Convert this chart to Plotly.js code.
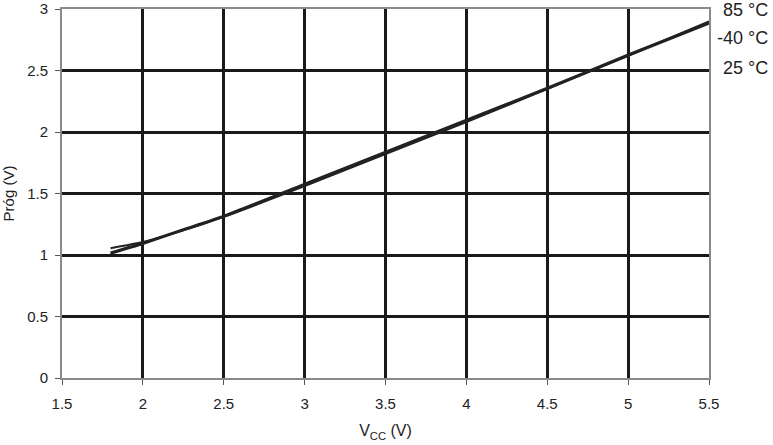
<!DOCTYPE html>
<html><head><meta charset="utf-8">
<script src="https://cdn.plot.ly/plotly-3.0.1.min.js"></script>
<style>html,body{margin:0;padding:0;background:#fff}#chart{width:773px;height:445px}</style>
</head><body><div id="chart"></div>
<script>
const vcc = [1.8, 2.0, 2.25, 2.5, 3.0, 3.5, 4.0, 4.5, 5.0, 5.5];
const prog25 = [1.01, 1.09, 1.20, 1.31, 1.57, 1.83, 2.09, 2.35, 2.62, 2.88];
const progM40 = [1.02, 1.10, 1.21, 1.32, 1.58, 1.84, 2.10, 2.36, 2.63, 2.89];
const prog85 = [1.055, 1.105, 1.20, 1.31, 1.56, 1.82, 2.08, 2.35, 2.62, 2.90];
const seriesNames = ['85 °C', '-40 °C', '25 °C'];
const xTicks = [1.5, 2, 2.5, 3, 3.5, 4, 4.5, 5, 5.5];
const yTicks = [0, 0.5, 1, 1.5, 2, 2.5, 3];

const seriesY = [prog85, progM40, prog25];
const traces = seriesY.map((y, i) => ({
  x: vcc, y: y, type: 'scatter', mode: 'lines', name: seriesNames[i],
  line: {color: '#222', width: 2, shape: 'spline', smoothing: 0.6}
}));
const labelY = [0.997, 0.921, 0.840];
const annotations = seriesNames.map((t, i) => ({
  text: t, xref: 'paper', yref: 'paper', x: 1.094, y: labelY[i],
  xanchor: 'right', yanchor: 'middle', showarrow: false,
  font: {family: 'Liberation Sans, Arial, sans-serif', size: 18, color: '#222'}
}));
const layout = {
  width: 773, height: 445,
  margin: {l: 62, r: 64, t: 9, b: 67},
  paper_bgcolor: '#fff', plot_bgcolor: '#fff',
  showlegend: false,
  font: {family: 'Liberation Sans, Arial, sans-serif', size: 15, color: '#222'},
  xaxis: {
    range: [1.5, 5.5], tickvals: xTicks, ticktext: xTicks.map(String),
    tickfont: {size: 15},
    showgrid: true, gridcolor: '#1a1a1a', gridwidth: 3,
    showline: true, linecolor: '#8a8a8a', linewidth: 2, mirror: true,
    ticks: 'outside', ticklen: 5, tickcolor: '#555', tickwidth: 1,
    ticklabelstandoff: 6,
    zeroline: false,
    title: {text: 'V<sub>CC</sub> (V)', standoff: 14, font: {size: 16}}
  },
  yaxis: {
    range: [0, 3], tickvals: yTicks, ticktext: yTicks.map(String),
    tickfont: {size: 15},
    showgrid: true, gridcolor: '#1a1a1a', gridwidth: 3,
    showline: true, linecolor: '#8a8a8a', linewidth: 2, mirror: true,
    ticks: 'outside', ticklen: 5, tickcolor: '#555', tickwidth: 1,
    ticklabelstandoff: 4,
    zeroline: false,
    title: {text: 'Próg (V)', standoff: 10, font: {size: 15}}
  },
  annotations: annotations
};
Plotly.newPlot('chart', traces, layout, {staticPlot: true, displayModeBar: false});
</script></body></html>
